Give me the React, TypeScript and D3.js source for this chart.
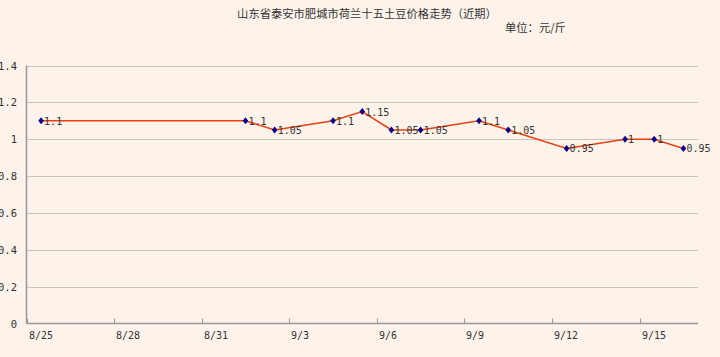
import React from "react";
import * as d3 from "d3";

const title = "山东省泰安市肥城市荷兰十五土豆价格走势（近期）";
const unitLabel = "单位：元/斤";
const dates = ["2024-08-25", "2024-09-01", "2024-09-02", "2024-09-04", "2024-09-05", "2024-09-06", "2024-09-07", "2024-09-09", "2024-09-10", "2024-09-12", "2024-09-14", "2024-09-15", "2024-09-16"];
const prices = [1.1, 1.1, 1.05, 1.1, 1.15, 1.05, 1.05, 1.1, 1.05, 0.95, 1, 1, 0.95];
const xTickDates = ["2024-08-25", "2024-08-28", "2024-08-31", "2024-09-03", "2024-09-06", "2024-09-09", "2024-09-12", "2024-09-15"];
const yTicks = [0, 0.2, 0.4, 0.6, 0.8, 1, 1.2, 1.4];

const W = 720, H = 357;
const left = 26.5, right = 698, top = 65.5, bottom = 323.5;
const mono = "'DejaVu Sans Mono', 'Liberation Mono', monospace";
const cjk = "'Noto Sans CJK SC', 'Noto Sans', sans-serif";

const parse = d3.timeParse("%Y-%m-%d");
const fmt = d3.timeFormat("%-m/%-d");

export default function App() {
  const x = d3.scaleTime().domain([parse("2024-08-25")!, parse("2024-09-17")!]).range([left, right]);
  const y = d3.scaleLinear().domain([0, 1.4]).range([bottom, top]);
  const pts = dates.map((d, i) => ({ x: x(d3.timeHour.offset(parse(d)!, 12)), y: y(prices[i]), v: prices[i] }));
  const line = d3.line<{ x: number; y: number }>().x(d => d.x).y(d => d.y);
  return (
    <svg width={W} height={H} style={{ position: "absolute", left: 0, top: 0, background: "#FDF3EB" }}>
      <rect x={0} y={0} width={W} height={H} fill="#FDF3EB" />
      <text x={367} y={18} textAnchor="middle" fontFamily={cjk} fontSize={11.3} fill="#333">{title}</text>
      <text x={505} y={32} fontFamily={cjk} fontSize={11.3} fill="#333">{unitLabel}</text>
      {yTicks.map(t => (
        <g key={t}>
          {t > 0 && <line x1={left} x2={right} y1={Math.round(y(t)) + 0.5} y2={Math.round(y(t)) + 0.5} stroke="#C8C4C0" strokeWidth={1} />}
          <text x={17} y={y(t) + 4} textAnchor="end" fontFamily={mono} fontSize={10.5} fill="#333">{String(t)}</text>
        </g>
      ))}
      <line x1={left} x2={left} y1={top} y2={bottom} stroke="#999" strokeWidth={1.5} />
      <line x1={left} x2={right} y1={bottom} y2={bottom} stroke="#999" strokeWidth={1.5} />
      {xTickDates.map(d => {
        const tx = Math.round(x(parse(d)!)) + 0.5;
        return (
          <g key={d}>
            <line x1={tx} x2={tx} y1={bottom - 5} y2={bottom} stroke="#999" strokeWidth={1} />
            <text x={tx + 1.5} y={339} fontFamily={mono} fontSize={10} fill="#333">{fmt(parse(d)!)}</text>
          </g>
        );
      })}
      <path d={line(pts) || ""} fill="none" stroke="#E8410F" strokeWidth={1.5} />
      {pts.map((p, i) => (
        <g key={i}>
          <path d={`M${p.x},${p.y - 3.5}L${p.x + 2.8},${p.y}L${p.x},${p.y + 3.5}L${p.x - 2.8},${p.y}Z`} fill="#00008B" />
          <text x={p.x + 3} y={p.y + 4} fontFamily={mono} fontSize={10} fill="#333">{String(p.v)}</text>
        </g>
      ))}
    </svg>
  );
}
